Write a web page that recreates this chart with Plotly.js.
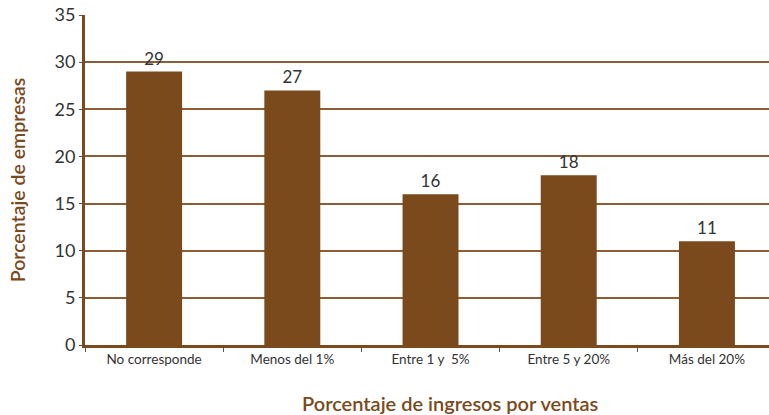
<!DOCTYPE html>
<html>
<head>
<meta charset="utf-8">
<script src="https://cdn.plot.ly/plotly-3.0.1.min.js"></script>
<style>html,body{margin:0;padding:0;background:#fff;}#chart{width:769px;height:415px;}</style>
</head>
<body>
<div id="chart"></div>
<script>
const categories = ["No corresponde", "Menos del 1%", "Entre 1 y  5%", "Entre 5 y 20%", "Más del 20%"];
const values = [29, 27, 16, 18, 11];
const yTicks = [0, 5, 10, 15, 20, 25, 30, 35];

const brown = "#7a4a1c";
const trace = {
  type: "bar",
  x: categories,
  y: values,
  text: values.map(String),
  textposition: "outside",
  textfont: {family: "Lato, 'Open Sans', sans-serif", size: 17, color: "#333333"},
  cliponaxis: false,
  marker: {color: brown, line: {width: 0}},
  width: 0.405,
  hoverinfo: "none"
};
const layout = {
  width: 769, height: 415,
  margin: {l: 85, r: 0, t: 15, b: 70},
  paper_bgcolor: "#ffffff", plot_bgcolor: "#ffffff",
  showlegend: false,
  font: {family: "Lato, 'Open Sans', sans-serif", color: "#333333"},
  xaxis: {
    type: "category",
    range: [-0.5, 4.449],
    showline: true, linecolor: brown, linewidth: 3,
    ticks: "outside", tickson: "boundaries", ticklen: 4, tickcolor: "#555555", tickwidth: 1,
    tickfont: {size: 13.5, color: "#333333"},
    showgrid: false, zeroline: false
  },
  yaxis: {
    range: [0, 35], tickvals: yTicks,
    showline: true, linecolor: brown, linewidth: 3,
    ticks: "outside", ticklen: 3, tickcolor: "#555555", tickwidth: 1,
    ticklabelstandoff: 0,
    tickfont: {size: 18, color: "#333333"},
    showgrid: true, gridcolor: "#8d5e35", gridwidth: 2,
    zeroline: false,
    title: {text: "Porcentaje de empresas", font: {size: 19.5, color: brown, weight: 600}, standoff: 24}
  },
  annotations: [{
    text: "Porcentaje de ingresos por ventas",
    xref: "paper", yref: "paper", x: 0.534, y: -0.175, yanchor: "middle", xanchor: "center",
    showarrow: false,
    font: {size: 20, color: brown, weight: 600}
  }]
};
Plotly.newPlot("chart", [trace], layout, {staticPlot: true, displayModeBar: false});
</script>
</body>
</html>
